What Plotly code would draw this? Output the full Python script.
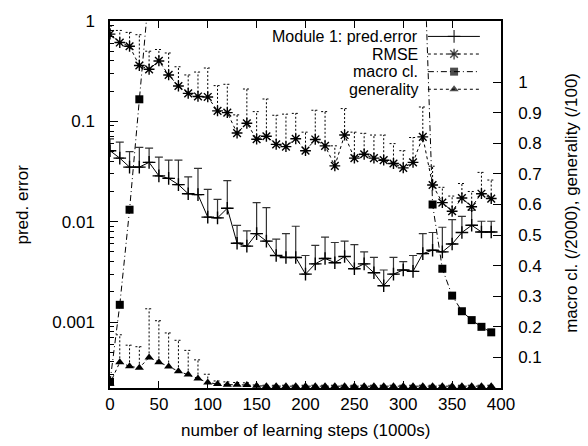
import math
import plotly.graph_objects as go

# ---------------- data ----------------
steps = list(range(0, 400, 10))  # number of learning steps (1000s)

pred_error = [0.051, 0.043, 0.035, 0.035, 0.039, 0.0286, 0.027, 0.0234, 0.019, 0.0186,
              0.0111, 0.0109, 0.0136, 0.0061, 0.0057, 0.0076, 0.0064, 0.0046, 0.0044, 0.0044,
              0.0030, 0.0038, 0.0043, 0.0039, 0.0045, 0.0034, 0.0038, 0.0031, 0.0023, 0.0030,
              0.0033, 0.0032, 0.0048, 0.0052, 0.0050, 0.0060, 0.0078, 0.0092, 0.0079, 0.0079]
pred_error_upper = [0.067, 0.062, 0.050, 0.055, 0.054, 0.044, 0.041, 0.041, 0.028, 0.034,
                    0.021, 0.0167, 0.0256, 0.0092, 0.0081, 0.0155, 0.0138, 0.0067, 0.0076, 0.0090,
                    0.0046, 0.0058, 0.0070, 0.0062, 0.0064, 0.0059, 0.0050, 0.0044, 0.0033, 0.0044,
                    0.0040, 0.0046, 0.0076, 0.0078, 0.0088, 0.0105, 0.0113, 0.0130, 0.0101, 0.0101]

rmse = [0.74, 0.61, 0.56, 0.36, 0.33, 0.40, 0.29, 0.225, 0.19, 0.177,
        0.175, 0.127, 0.122, 0.0764, 0.0957, 0.0664, 0.071, 0.059, 0.056, 0.067,
        0.051, 0.066, 0.057, 0.036, 0.073, 0.043, 0.047, 0.043, 0.041, 0.038,
        0.0344, 0.039, 0.070, 0.0232, 0.0155, 0.0127, 0.0172, 0.0141, 0.019, 0.017]
rmse_upper = [0.89, 0.805, 0.77, 0.73, 0.50, 0.52, 0.48, 0.35, 0.29, 0.31,
              0.34, 0.227, 0.234, 0.116, 0.21, 0.125, 0.167, 0.115, 0.118, 0.12,
              0.078, 0.129, 0.125, 0.057, 0.134, 0.078, 0.076, 0.073, 0.073, 0.060,
              0.051, 0.069, 0.139, 0.0357, 0.022, 0.018, 0.024, 0.020, 0.031, 0.026]

# macro classifiers (/2000): values between 40 and 320 lie above the plotted range
macro_cl = [0.02, 0.272, 0.583, 0.944, 1.30, 1.55, 1.75, 1.90, 2.00, 2.05,
            2.10, 2.10, 2.05, 2.00, 1.95, 1.90, 1.85, 1.85, 1.80, 1.80,
            1.75, 1.75, 1.70, 1.70, 1.65, 1.65, 1.60, 1.60, 1.55, 1.55,
            1.50, 1.50, 1.55, 0.60, 0.39, 0.302, 0.251, 0.222, 0.20, 0.182]

generality = [0.015, 0.084, 0.071, 0.066, 0.10, 0.084, 0.07, 0.055, 0.044, 0.031,
              0.018, 0.013, 0.011, 0.011, 0.010, 0.007, 0.006, 0.006, 0.006, 0.006,
              0.006, 0.006, 0.006, 0.006, 0.006, 0.006, 0.006, 0.006, 0.006, 0.006,
              0.006, 0.006, 0.006, 0.006, 0.006, 0.006, 0.006, 0.006, 0.006, 0.006]
generality_upper = [0.03, 0.174, 0.14, 0.135, 0.259, 0.22, 0.18, 0.156, 0.123, 0.092,
                    0.045, 0.023, 0.020, 0.018, 0.017, 0.010, 0.009, 0.009, 0.009, 0.009,
                    0.009, 0.009, 0.009, 0.009, 0.009, 0.009, 0.009, 0.009, 0.009, 0.009,
                    0.009, 0.009, 0.009, 0.009, 0.009, 0.009, 0.009, 0.009, 0.009, 0.009]

x_ticks = [0, 50, 100, 150, 200, 250, 300, 350, 400]
y_ticks = [0.001, 0.01, 0.1, 1]
y_ticktext = ["0.001", "0.01", "0.1", "1"]
y2_ticks = [0.1, 0.2, 0.3, 0.4, 0.5, 0.6, 0.7, 0.8, 0.9, 1.0]
y2_ticktext = ["0.1", "0.2", "0.3", "0.4", "0.5", "0.6", "0.7", "0.8", "0.9", "1"]
y_minor = [m * 10.0 ** e for e in range(-4, 0) for m in range(2, 10)]

legend_names = ["Module 1: pred.error", "RMSE", "macro cl.", "generality"]

FONT = "Liberation Sans, Arial, Helvetica, sans-serif"
DOT = "3px,3px"
DASHDOT = "6px,3px,1px,3px"
CAP = 4.0  # half cap width in x-units


def bar_path(xs, lo, hi, cap):
    X, Y = [], []
    for x, a, b in zip(xs, lo, hi):
        X += [x, x, None, x - cap, x + cap, None]
        Y += [a, b, None, b, b, None]
    return X, Y


fig = go.Figure()

# Module 1: pred.error with solid upper error bars
fig.add_trace(go.Scatter(
    x=steps, y=pred_error, mode="lines+markers", name=legend_names[0],
    line=dict(color="black", width=1),
    marker=dict(symbol="cross-thin", size=9, color="black", line=dict(color="black", width=1.4)),
    error_y=dict(type="data", symmetric=False,
                 array=[u - v for u, v in zip(pred_error_upper, pred_error)],
                 arrayminus=[0] * len(steps), width=4, thickness=1.2, color="#333"),
    showlegend=False))

# RMSE with dotted error bars
bx, by = bar_path(steps, rmse, rmse_upper, CAP)
fig.add_trace(go.Scatter(x=bx, y=by, mode="lines", line=dict(color="black", width=1, dash="2px,2px"),
                         showlegend=False, hoverinfo="skip"))
fig.add_trace(go.Scatter(
    x=steps, y=rmse, mode="lines+markers", name=legend_names[1],
    line=dict(color="black", width=1, dash=DOT),
    marker=dict(symbol="asterisk", size=9, color="black", line=dict(color="black", width=1.4)),
    showlegend=False))

# macro cl. on right axis
fig.add_trace(go.Scatter(
    x=steps, y=macro_cl, mode="lines+markers", name=legend_names[2], yaxis="y2",
    line=dict(color="black", width=1, dash=DASHDOT),
    marker=dict(symbol="square", size=8, color="black"),
    showlegend=False))

# generality on right axis with dotted error bars
gx, gy = bar_path(steps, generality, generality_upper, CAP)
fig.add_trace(go.Scatter(x=gx, y=gy, mode="lines", yaxis="y2",
                         line=dict(color="black", width=1, dash="2px,2px"),
                         showlegend=False, hoverinfo="skip"))
fig.add_trace(go.Scatter(
    x=steps, y=generality, mode="lines+markers", name=legend_names[3], yaxis="y2",
    line=dict(color="black", width=1, dash=DOT),
    marker=dict(symbol="triangle-up", size=8, color="black"),
    showlegend=False))

# ---------------- custom gnuplot-style legend (text left, sample right) ----------------
leg_x0, leg_x1, leg_xm = 0.813, 0.946, 0.88
leg_rows = [0.958, 0.910, 0.862, 0.814]
leg_styles = [
    dict(dash="solid", symbol="cross-thin", size=9, lw=1.4),
    dict(dash=DOT, symbol="asterisk", size=9, lw=1.4),
    dict(dash=DASHDOT, symbol="square", size=8, lw=0),
    dict(dash=DOT, symbol="triangle-up", size=8, lw=0),
]
for name, yy, st in zip(legend_names, leg_rows, leg_styles):
    fig.add_trace(go.Scatter(
        x=[leg_x0, leg_xm, leg_x1], y=[yy, yy, yy], xaxis="x3", yaxis="y3",
        mode="lines+markers", line=dict(color="black", width=1, dash=st["dash"]),
        marker=dict(symbol=st["symbol"], size=[0, st["size"], 0], color="black",
                    line=dict(color="black", width=st["lw"])),
        showlegend=False, hoverinfo="skip"))
    fig.add_annotation(x=0.79, y=yy, xref="paper", yref="paper", text=name, showarrow=False,
                       xanchor="right", yanchor="middle", borderpad=0,
                       font=dict(size=16, family=FONT, color="black"))

# axis titles
fig.add_annotation(x=0.5, y=-0.117, xref="paper", yref="paper", text="number of learning steps (1000s)",
                   showarrow=False, xanchor="center", yanchor="middle",
                   font=dict(size=17, family=FONT, color="black"))
fig.add_annotation(x=-0.225, y=0.5, xref="paper", yref="paper", text="pred. error", textangle=-90,
                   showarrow=False, xanchor="center", yanchor="middle",
                   font=dict(size=17, family=FONT, color="black"))
fig.add_annotation(x=1.182, y=0.505, xref="paper", yref="paper", text="macro cl. (/2000), generality (/100)",
                   textangle=-90, showarrow=False, xanchor="center", yanchor="middle",
                   font=dict(size=17, family=FONT, color="black"))

axis_common = dict(showgrid=False, zeroline=False, showline=True, linecolor="black", linewidth=1.5,
                   tickcolor="black", tickwidth=1, tickfont=dict(size=17, family=FONT, color="black"))

fig.update_layout(
    width=588, height=446,
    margin=dict(l=110, r=87, t=12, b=58),
    paper_bgcolor="white", plot_bgcolor="white",
    font=dict(family=FONT, size=17, color="black"),
    showlegend=False,
    xaxis=dict(range=[0, 400], tickmode="array", tickvals=x_ticks, ticks="inside", ticklen=7,
               mirror="ticks", ticklabelstandoff=0, **axis_common),
    yaxis=dict(type="log", range=[math.log10(0.00022), 0], tickmode="array", tickvals=y_ticks,
               ticktext=y_ticktext, ticks="inside", ticklen=8, mirror=True, ticklabelstandoff=10,
               minor=dict(tickmode="array", tickvals=y_minor, ticks="inside", ticklen=4,
                          tickcolor="black", tickwidth=1, showgrid=False),
               **axis_common),
    yaxis2=dict(overlaying="y", side="right", range=[0, 1.2], tickmode="array", tickvals=y2_ticks,
                ticktext=y2_ticktext, ticks="inside", ticklen=8, ticklabelstandoff=12, **axis_common),
    xaxis3=dict(overlaying="x", range=[0, 1], visible=False, fixedrange=True),
    yaxis3=dict(overlaying="y", range=[0, 1], visible=False, fixedrange=True),
)

fig.write_html("out.html")
